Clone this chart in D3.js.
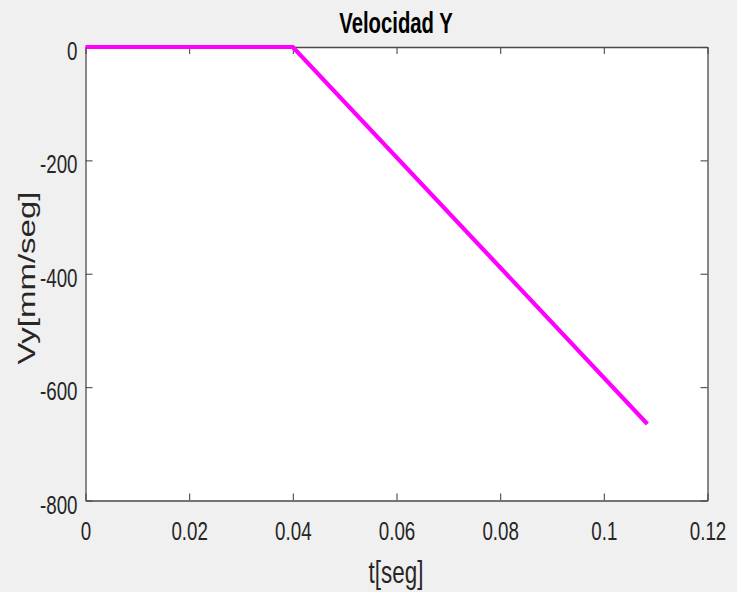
<!DOCTYPE html>
<html>
<head>
<meta charset="utf-8">
<script src="https://cdn.jsdelivr.net/npm/d3@7"></script>
<style>
  body { margin: 0; background: #f0f0f0; }
  text { font-family: "Liberation Sans", Arial, sans-serif; fill: #262626; }
</style>
</head>
<body>
<div id="chart"></div>
<script>
// data
var tData = [0, 0.04, 0.1084];
var vyData = [0, 0, -665];
var xTicks = [0, 0.02, 0.04, 0.06, 0.08, 0.1, 0.12];
var xTickLabels = ["0", "0.02", "0.04", "0.06", "0.08", "0.1", "0.12"];
var yTicks = [0, -200, -400, -600, -800];
var yTickLabels = ["0", "-200", "-400", "-600", "-800"];

var width = 737, height = 592;
var margin = {top: 47, right: 29.5, bottom: 91.5, left: 85.5};
var w = width - margin.left - margin.right;
var h = height - margin.top - margin.bottom;

var svg = d3.select("#chart").append("svg")
  .attr("width", width)
  .attr("height", height)
  .style("display", "block");

svg.append("rect").attr("width", width).attr("height", height).attr("fill", "#f0f0f0");

var g = svg.append("g").attr("transform", "translate(" + margin.left + "," + margin.top + ")");

g.append("rect").attr("width", w).attr("height", h).attr("fill", "#fff");

var x = d3.scaleLinear().domain([0, 0.12]).range([0, w]);
var y = d3.scaleLinear().domain([-800, 0]).range([h, 0]);

function styleAxis(sel) {
  sel.select(".domain").attr("stroke", "#4a4a4a").attr("stroke-width", 1.3);
  sel.selectAll(".tick line").attr("stroke", "#4a4a4a").attr("stroke-width", 1.1);
}

var xAxis = g.append("g").attr("transform", "translate(0," + h + ")")
  .call(d3.axisBottom(x).tickValues(xTicks).tickSizeInner(-7).tickSizeOuter(0)
    .tickFormat(function(d, i) { return xTickLabels[i]; }));
styleAxis(xAxis);
xAxis.selectAll(".tick text")
  .attr("x", 0).attr("y", 0).attr("dy", null)
  .attr("text-anchor", "middle")
  .attr("transform", "translate(0,39.5) scale(0.75,1)")
  .style("font-size", "25px").style("fill", "#262626");

var yAxis = g.append("g")
  .call(d3.axisLeft(y).tickValues(yTicks).tickSizeInner(-7).tickSizeOuter(0)
    .tickFormat(function(d, i) { return yTickLabels[i]; }));
styleAxis(yAxis);
yAxis.selectAll(".tick text")
  .attr("x", 0).attr("y", 0).attr("dy", null)
  .attr("text-anchor", "end")
  .attr("transform", "translate(-8,12.5) scale(0.75,1)")
  .style("font-size", "25px").style("fill", "#262626");

var topAxis = g.append("g")
  .call(d3.axisTop(x).tickValues(xTicks).tickSizeInner(-7).tickSizeOuter(0).tickFormat(""));
styleAxis(topAxis);

var rightAxis = g.append("g").attr("transform", "translate(" + w + ",0)")
  .call(d3.axisRight(y).tickValues(yTicks).tickSizeInner(-7).tickSizeOuter(0).tickFormat(""));
styleAxis(rightAxis);

var pts = tData.map(function(t, i) { return [t, vyData[i]]; });

g.append("path")
  .datum(pts)
  .attr("fill", "none")
  .attr("stroke", "#ff00ff")
  .attr("stroke-width", 4.2)
  .attr("d", d3.line()
    .x(function(d) { return x(d[0]); })
    .y(function(d) { return y(d[1]); }));

// title and labels
svg.append("text")
  .attr("transform", "translate(396,33) scale(0.7,1)")
  .attr("text-anchor", "middle")
  .style("font-size", "29px").style("font-weight", "bold").style("fill", "#000")
  .text("Velocidad Y");

svg.append("text")
  .attr("transform", "translate(396,583) scale(0.7,1)")
  .attr("text-anchor", "middle")
  .style("font-size", "32px")
  .text("t[seg]");

svg.append("text")
  .attr("transform", "translate(35,278) rotate(-90) scale(1,0.7)")
  .attr("text-anchor", "middle")
  .style("font-size", "33px")
  .text("Vy[mm/seg]");
</script>
</body>
</html>
